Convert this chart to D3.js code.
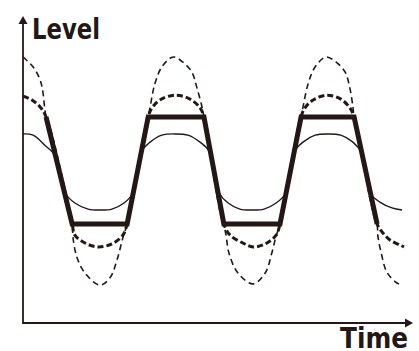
<!DOCTYPE html>
<html>
<head>
<meta charset="utf-8">
<script src="https://cdn.jsdelivr.net/npm/d3@7"></script>
<style>
  body { margin: 0; background: #fff; }
  svg { display: block; }
</style>
</head>
<body>
<div id="chart"></div>
<script>
const width = 419;
const height = 351;
const ink = "#231815";

// clipped output (thick line): corners of the flattened wave
const clipTime  = [5.9, 12.6, 26.7, 32.1, 46.4, 51.5, 65.9, 71.3, 84.9, 90.8];
const clipLevel = [68, 32.7, 32.7, 68, 68, 32.7, 32.7, 68, 68, 32.7];

// small signal (thin solid)
const smallTime  = [0, 2.6, 5.6, 8.5, 10.8, 13.3, 16.7, 19.7, 22.8, 25.9, 28.2, 30.3, 32.6, 35.6, 39.0, 42.3, 45.4, 47.9,
                    50.3, 52.6, 55.6, 58.7, 61.8, 64.9, 67.4, 69.5, 71.8, 74.9, 78.2, 81.5, 84.6, 86.7, 89.0, 91.5, 94.6, 97.2];
const smallLevel = [62.4, 62.0, 58.7, 54.8, 42.9, 39.6, 37.6, 37.3, 37.6, 39.6, 42.9, 56.4, 59.7, 62.0, 62.4, 62.0, 59.7, 56.4,
                    42.9, 39.6, 37.6, 37.3, 37.6, 39.6, 42.9, 56.4, 59.7, 62.0, 62.4, 62.0, 59.7, 56.4, 42.9, 39.9, 38.0, 37.3];

// medium signal (thick dashed)
const midTime  = [0, 2.3, 4.4, 5.9, 12.6, 13.3, 15.9, 19.2, 22.8, 25.6, 26.7, 32.1, 33.1, 35.1, 39.0, 42.8, 45.4, 46.4,
                  51.5, 53.1, 56.4, 59.0, 62.1, 64.9, 65.9, 71.3, 72.3, 74.4, 77.9, 81.5, 83.8, 84.9, 90.8, 92.3, 94.1, 96.7, 97.7];
const midLevel = [74.9, 73.6, 71.3, 68.0, 32.7, 29.0, 26.4, 25.1, 26.1, 29.0, 32.7, 68.0, 71.0, 73.6, 75.2, 73.9, 71.0, 68.0,
                  32.7, 29.0, 26.4, 25.1, 26.1, 29.0, 32.7, 68.0, 71.0, 73.6, 75.2, 73.9, 71.0, 68.0, 32.7, 29.7, 27.4, 25.7, 25.1];

// large signal (thin dashed)
const bigTime  = [0, 2.6, 4.4, 5.1, 5.9, 12.6, 12.8, 13.8, 15.9, 19.7, 22.3, 24.1, 25.6, 26.7, 32.1, 32.6, 33.8, 35.6, 38.5,
                  41.0, 43.3, 44.6, 45.9, 46.4, 51.5, 52.1, 52.8, 55.1, 59.0, 62.1, 63.8, 64.9, 65.9, 71.3, 71.8, 73.1, 74.9,
                  77.7, 80.3, 82.6, 83.8, 84.6, 84.9, 90.8, 91.0, 91.8, 93.3, 95.9, 97.4];
const bigLevel = [87.8, 84.5, 80.2, 76.2, 68.0, 32.7, 28.4, 21.8, 16.5, 12.5, 14.9, 20.8, 28.1, 32.7, 68.0, 71.3, 78.9, 84.5, 87.8,
                  86.1, 82.8, 77.6, 71.3, 68.0, 32.7, 28.7, 23.1, 16.5, 12.9, 16.5, 23.1, 28.7, 32.7, 68.0, 71.3, 78.9, 84.5,
                  87.8, 86.1, 82.8, 77.6, 71.3, 68.0, 32.7, 28.7, 23.4, 16.8, 13.2, 12.5];

const x = d3.scaleLinear().domain([0, 100]).range([23, 413]);
const y = d3.scaleLinear().domain([0, 100]).range([323, 20]);

const svg = d3.select("#chart").append("svg")
  .attr("width", width)
  .attr("height", height);

function curvePath(times, levels, curve) {
  return d3.line()
    .x((d, i) => x(times[i]))
    .y(d => y(d))
    .curve(curve)(levels);
}

const smooth = d3.curveCatmullRom.alpha(0.5);

// large signal, thin dashed
svg.append("path")
  .attr("d", curvePath(bigTime, bigLevel, smooth))
  .attr("fill", "none")
  .attr("stroke", ink)
  .attr("stroke-width", 1.6)
  .attr("stroke-dasharray", "6,4");

// medium signal, thick dashed
svg.append("path")
  .attr("d", curvePath(midTime, midLevel, smooth))
  .attr("fill", "none")
  .attr("stroke", ink)
  .attr("stroke-width", 3)
  .attr("stroke-dasharray", "6,3");

// small signal, thin solid
svg.append("path")
  .attr("d", curvePath(smallTime, smallLevel, smooth))
  .attr("fill", "none")
  .attr("stroke", ink)
  .attr("stroke-width", 1.4);

// clipped output
svg.append("path")
  .attr("d", curvePath(clipTime, clipLevel, d3.curveLinear))
  .attr("fill", "none")
  .attr("stroke", ink)
  .attr("stroke-width", 5)
  .attr("stroke-linejoin", "miter");

// axes
const x0 = x(0), y0 = y(0);
const xEnd = x(100), yEnd = y(100) - 4;

svg.append("line")
  .attr("x1", x0).attr("y1", y0 + 1)
  .attr("x2", x0).attr("y2", yEnd + 4)
  .attr("stroke", ink).attr("stroke-width", 1.8);

svg.append("line")
  .attr("x1", x0).attr("y1", y0)
  .attr("x2", xEnd - 4).attr("y2", y0)
  .attr("stroke", ink).attr("stroke-width", 1.8);

// arrow heads
svg.append("path")
  .attr("d", `M${x0},${yEnd} L${x0 - 4.5},${yEnd + 8} L${x0 + 4.5},${yEnd + 8} Z`)
  .attr("fill", ink);

svg.append("path")
  .attr("d", `M${xEnd},${y0} L${xEnd - 8},${y0 - 4.5} L${xEnd - 8},${y0 + 4.5} Z`)
  .attr("fill", ink);

// labels
svg.append("text")
  .attr("x", 32)
  .attr("y", 39)
  .attr("font-family", "DejaVu Sans Condensed, DejaVu Sans")
  .attr("font-weight", "bold")
  .attr("font-size", 29)
  .attr("textLength", 68)
  .attr("lengthAdjust", "spacingAndGlyphs")
  .attr("fill", ink)
  .text("Level");

svg.append("text")
  .attr("x", 340)
  .attr("y", 348)
  .attr("font-family", "DejaVu Sans Condensed, DejaVu Sans")
  .attr("font-weight", "bold")
  .attr("font-size", 28)
  .attr("textLength", 68)
  .attr("lengthAdjust", "spacingAndGlyphs")
  .attr("fill", ink)
  .text("Time");
</script>
</body>
</html>
